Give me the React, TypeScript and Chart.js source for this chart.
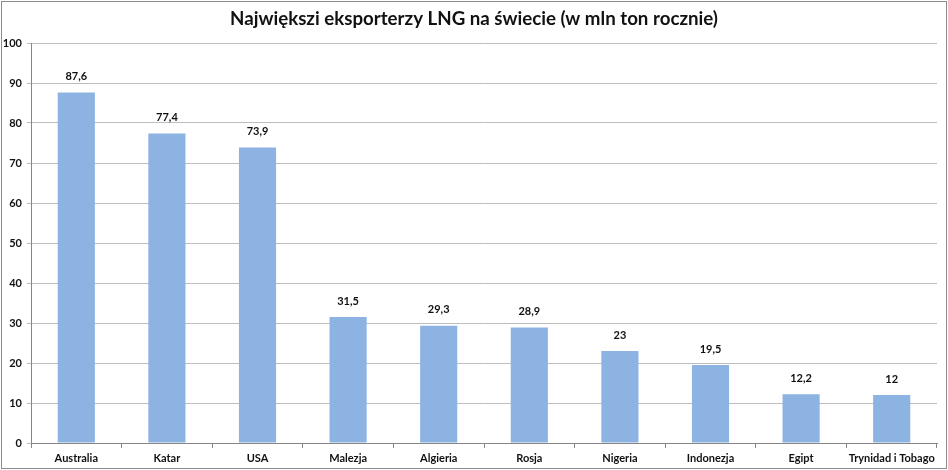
import React, { useEffect, useRef } from "react";
import { Chart, registerables } from "chart.js";

Chart.register(...registerables);

const titleText = "Największi eksporterzy LNG na świecie (w mln ton rocznie)";
const categories = ["Australia", "Katar", "USA", "Malezja", "Algieria", "Rosja", "Nigeria", "Indonezja", "Egipt", "Trynidad i Tobago"];
const values = [87.6, 77.4, 73.9, 31.5, 29.3, 28.9, 23, 19.5, 12.2, 12];
const valueLabels = ["87,6", "77,4", "73,9", "31,5", "29,3", "28,9", "23", "19,5", "12,2", "12"];
const yMin = 0;
const yMax = 100;
const yStep = 10;

const FONT = "Lato, 'Open Sans', 'Liberation Sans', sans-serif";

const decorPlugin = {
  id: "decor",
  beforeDraw(chart: any) {
    const ctx = chart.ctx;
    ctx.save();
    ctx.fillStyle = "#ffffff";
    ctx.fillRect(0, 0, chart.width, chart.height);
    ctx.restore();
  },
  afterDraw(chart: any) {
    const ctx = chart.ctx;
    ctx.save();
    // border
    ctx.strokeStyle = "#8c8c8c";
    ctx.lineWidth = 1;
    ctx.strokeRect(1.5, 1.5, chart.width - 3, chart.height - 3);
    // title
    ctx.fillStyle = "#111111";
    ctx.font = `bold 18.7px ${FONT}`;
    ctx.textAlign = "center";
    ctx.textBaseline = "middle";
    ctx.fillText(titleText, chart.width / 2, 19);
    // value labels
    const meta = chart.getDatasetMeta(0);
    ctx.font = `bold 11px ${FONT}`;
    ctx.fillStyle = "#111111";
    meta.data.forEach((bar: any, i: number) => {
      ctx.fillText(valueLabels[i], bar.x, bar.y - 16);
    });
    ctx.restore();
  },
};

export default function App() {
  const ref = useRef<HTMLCanvasElement | null>(null);
  useEffect(() => {
    document.body.style.margin = "0";
    if (!ref.current) return;
    const chart = new Chart(ref.current, {
      type: "bar",
      data: {
        labels: categories,
        datasets: [
          {
            data: values,
            backgroundColor: "#8db3e2",
            borderWidth: 0,
            categoryPercentage: 1,
            barPercentage: 0.41,
          },
        ],
      },
      options: {
        animation: false,
        responsive: false,
        devicePixelRatio: 1,
        layout: { padding: { top: 43, right: 11, left: 0, bottom: 0 } },
        plugins: {
          legend: { display: false },
          title: { display: false },
          tooltip: { enabled: false },
        },
        scales: {
          x: {
            grid: {
              display: true,
              drawOnChartArea: false,
              drawTicks: true,
              tickLength: 5,
              color: "#868686",
              offset: true,
            },
            border: { display: true, color: "#868686" },
            ticks: {
              color: "#111111",
              font: { family: FONT, size: 11, weight: "bold" },
              padding: 4,
              maxRotation: 0,
              autoSkip: false,
            },
            afterFit(scale: any) {
              scale.height = 27;
            },
          },
          y: {
            min: yMin,
            max: yMax,
            ticks: {
              stepSize: yStep,
              color: "#111111",
              font: { family: FONT, size: 11, weight: "bold" },
              padding: 5,
            },
            grid: {
              color: "#bdbdbd",
              tickLength: 4,
            },
            border: { display: true, color: "#868686" },
            afterFit(scale: any) {
              scale.width = 31;
            },
          },
        },
      },
      plugins: [decorPlugin],
    });
    return () => chart.destroy();
  }, []);
  return (
    <div style={{ position: "absolute", left: 0, top: 0, width: 948, height: 470 }}>
      <canvas ref={ref} width={948} height={470} style={{ width: 948, height: 470, display: "block" }} />
    </div>
  );
}
